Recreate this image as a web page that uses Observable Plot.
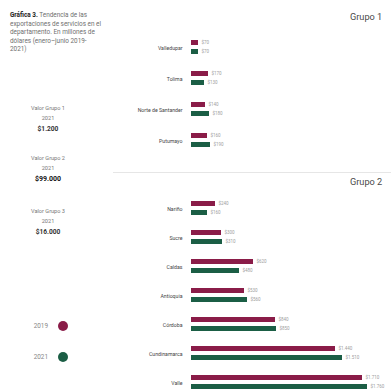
<!DOCTYPE html>
<html>
<head>
<meta charset="utf-8">
<script src="https://cdn.jsdelivr.net/npm/d3@7"></script>
<script src="https://cdn.jsdelivr.net/npm/@observablehq/plot@0.6"></script>
<style>
  html, body { margin: 0; padding: 0; background: #fff; }
  body { width: 391px; height: 390px; overflow: hidden; position: relative; font-family: Roboto, "Noto Sans", sans-serif; }
  .abs { position: absolute; }
  #title { left: 10px; top: 11px; width: 118px; font-size: 6.4px; line-height: 8.6px; color: #6f6f6f; }
  #title div { white-space: nowrap; height: 8.6px; }
  #title b { color: #222; }
  .stat { left: 8px; width: 80px; text-align: center; color: #777; font-size: 5.6px; line-height: 9.5px; }
  .stat .big { color: #333; font-weight: 700; font-size: 6.6px; line-height: 12px; }
  .stat .big.em { color: #111; font-size: 7px; }
  .grp { font-size: 9.2px; color: #4a4a4a; white-space: nowrap; }
  #sep { left: 113px; top: 172px; width: 278px; height: 1px; background: #e6e6e6; }
  .leg { left: 20px; width: 70px; height: 12px; font-size: 6.4px; color: #888; }
</style>
</head>
<body>
<div id="title" class="abs"></div>
<div id="stats"></div>
<div id="legend"></div>
<div id="sep" class="abs"></div>
<div class="abs grp" style="left:350px; top:11px;">Grupo 1</div>
<div class="abs grp" style="left:350px; top:176px;">Grupo 2</div>
<div id="g1" class="abs" style="left:115px; top:32px;"></div>
<div id="g2" class="abs" style="left:115px; top:192px;"></div>
<script>
// ---- data ----
const years = ["2019", "2021"];
const colors = ["#8a1c48", "#1b5e45"];

const group1Cats = ["Valledupar", "Tolima", "Norte de Santander", "Putumayo"];
const group1Values2019 = [70, 170, 140, 160];
const group1Values2021 = [70, 130, 180, 190];

const group2Cats = ["Nariño", "Sucre", "Caldas", "Antioquia", "Córdoba", "Cundinamarca", "Valle"];
const group2Values2019 = [240, 300, 620, 530, 840, 1440, 1710];
const group2Values2021 = [160, 310, 480, 560, 850, 1510, 1760];

const titleBold = "Gráfica 3.";
const titleLines = [
  "Tendencia de las",
  "exportaciones de servicios en el",
  "departamento. En millones de",
  "dólares (enero–junio 2019-",
  "2021)"
];

const statLabels = ["Valor Grupo 1", "Valor Grupo 2", "Valor Grupo 3"];
const statYears = ["2021", "2021", "2021"];
const statValues = ["$1.200", "$99.000", "$16.000"];

// ---- helpers ----
const fmt = v => "$" + d3.format(",")(v).replace(/,/g, ".");

document.getElementById("title").innerHTML = titleLines.map((l, i) =>
  i === 0 ? `<div><b>${titleBold}</b> <span>${l}</span></div>` : `<div>${l}</div>`
).join("");

const statTops = [104, 154, 207];
document.getElementById("stats").innerHTML = statLabels.map((l, i) =>
  `<div class="abs stat" style="top:${statTops[i]}px">${l}<br>${statYears[i]}<br><span class="big${i === 1 ? " em" : ""}">${statValues[i]}</span></div>`
).join("");

const legTops = [320, 351];
document.getElementById("legend").innerHTML = years.map((y, i) =>
  `<div class="abs leg" style="top:${legTops[i]}px">
     <span style="position:absolute; right:42px; top:1.5px;">${y}</span>
     <svg width="12" height="12" style="position:absolute; left:37px; top:0"><circle cx="6" cy="6" r="5" fill="${colors[i]}"/></svg>
   </div>`
).join("");

function groupChart(cats, v19, v21, facetH) {
  const data = cats.flatMap((c, i) => [
    {cat: c, year: years[0], value: v19[i]},
    {cat: c, year: years[1], value: v21[i]}
  ]);
  const inset = (facetH - 15) / 2;
  return Plot.plot({
    width: 276,
    height: Math.round(facetH * cats.length),
    marginLeft: 76, marginRight: 10, marginTop: 0, marginBottom: 0,
    x: {domain: [0, 1900], axis: null},
    y: {domain: years, axis: null, paddingInner: 0.42, paddingOuter: 0, insetTop: inset, insetBottom: inset},
    fy: {domain: cats, padding: 0, axis: "left", tickSize: 0, tickPadding: 9, label: null},
    color: {domain: years, range: colors},
    style: {fontFamily: "Roboto, 'Noto Sans', sans-serif", fontSize: "5.2px", color: "#444", background: "transparent"},
    marks: [
      Plot.barX(data, {x: "value", y: "year", fy: "cat", fill: "year"}),
      Plot.text(data, {x: "value", y: "year", fy: "cat", text: d => fmt(d.value), dx: 3, textAnchor: "start", fill: "#a0a0a0", fontSize: 4.5})
    ]
  });
}

document.getElementById("g1").append(groupChart(group1Cats, group1Values2019, group1Values2021, 31));
document.getElementById("g2").append(groupChart(group2Cats, group2Values2019, group2Values2021, 29.5));
</script>
</body>
</html>
